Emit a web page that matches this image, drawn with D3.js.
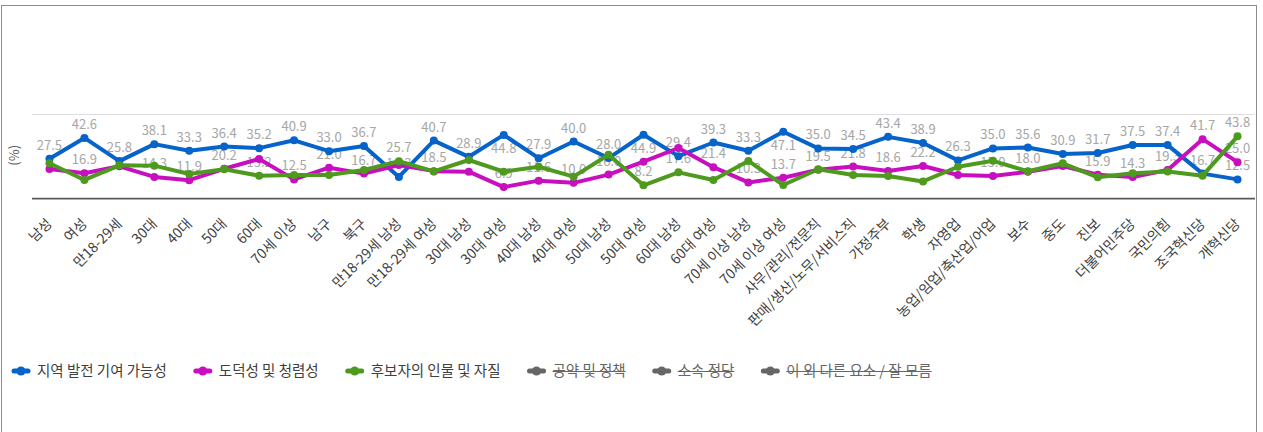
<!DOCTYPE html>
<html>
<head>
<meta charset="utf-8">
<title>chart</title>
<script src="https://cdn.jsdelivr.net/npm/d3@7"></script>
<style>
	body { margin: 0; background: #fff; }
	text { font-family: "Noto Sans CJK KR", "Noto Sans", sans-serif; }
</style>
</head>
<body>
<svg id="chart" width="1263" height="432"></svg>
<script>
	var categories = ['남성', '여성', '만18-29세', '30대', '40대', '50대', '60대', '70세 이상', '남구', '북구',
		'만18-29세 남성', '만18-29세 여성', '30대 남성', '30대 여성', '40대 남성', '40대 여성', '50대 남성', '50대 여성',
		'60대 남성', '60대 여성', '70세 이상 남성', '70세 이상 여성', '사무/관리/전문직', '판매/생산/노무/서비스직',
		'가정주부', '학생', '자영업', '농업/임업/축산업/어업', '보수', '중도', '진보', '더불어민주당', '국민의힘',
		'조국혁신당', '개혁신당'];

	var regional = [27.5, 42.6, 25.8, 38.1, 33.3, 36.4, 35.2, 40.9, 33.0, 36.7, 14.3, 40.7, 28.9, 44.8, 27.9, 40.0,
		28.0, 44.9, 29.4, 39.3, 33.3, 47.1, 35.0, 34.5, 43.4, 38.9, 26.3, 35.0, 35.6, 30.9, 31.7, 37.5, 37.4, 16.7, 12.5];
	var moral = [20.1, 16.9, 22.0, 14.3, 11.9, 20.2, 27.3, 12.5, 21.0, 16.7, 23.0, 18.5, 18.1, 6.9, 11.6, 10.0,
		16.0, 25.4, 35.3, 21.4, 10.3, 13.7, 19.5, 21.8, 18.6, 22.2, 15.7, 15.0, 18.0, 22.2, 15.9, 14.3, 19.3, 41.7, 25.0];
	var person = [24.2, 12.1, 22.7, 22.5, 16.4, 19.8, 15.2, 15.7, 15.7, 19.3, 25.7, 18.3, 26.6, 18.1, 21.7, 14.5,
		30.4, 8.2, 17.6, 12.1, 25.9, 8.4, 19.9, 15.7, 15.0, 11.0, 21.7, 26.0, 18.4, 24.2, 14.0, 16.9, 18.2, 15.2, 43.8];

	var seriesNames = ['지역 발전 기여 가능성', '도덕성 및 청렴성', '후보자의 인물 및 자질', '공약 및 정책', '소속 정당', '이 외 다른 요소 / 잘 모름'];
	var seriesColors = ['#0563c9', '#c80fbf', '#4e9a1e', '#666666', '#666666', '#666666'];
	var seriesHidden = [false, false, false, true, true, true];
	var yMax = 60;

	var series = [regional, moral, person];

	var svg = d3.select('#chart');
	var plot = { left: 32, right: 1255, top: 114, bottom: 196.6 };

	// outer frame
	svg.append('rect')
		.attr('x', 1.5).attr('y', 5.5)
		.attr('width', 1255).attr('height', 440)
		.attr('fill', 'none').attr('stroke', '#8c8c8c');

	var x = d3.scalePoint().domain(categories).range([plot.left, plot.right]).padding(0.5);
	var y = d3.scaleLinear().domain([0, yMax]).range([plot.bottom, plot.top]);

	// top grid line
	svg.append('g')
		.attr('transform', 'translate(' + plot.left + ',0)')
		.call(d3.axisLeft(y).tickValues([yMax]).tickSize(-(plot.right - plot.left)).tickFormat(''))
		.call(function (g) {
			g.select('.domain').remove();
			g.selectAll('.tick line').attr('stroke', '#dedede');
		});

	// x axis
	var xAxis = svg.append('g')
		.attr('transform', 'translate(0,' + (plot.bottom + 2) + ')')
		.call(d3.axisBottom(x).tickSize(0).tickSizeOuter(0));
	xAxis.select('.domain').attr('stroke', '#595959').attr('stroke-width', 1.6)
		.attr('d', 'M' + plot.left + ',0H' + plot.right);
	xAxis.selectAll('.tick text')
		.attr('x', 0).attr('y', 0).attr('dy', null)
		.attr('transform', 'translate(3,26) rotate(-45)')
		.style('text-anchor', 'end')
		.style('font-size', '14px')
		.attr('fill', '#404040');

	svg.append('text')
		.attr('transform', 'translate(19,' + ((plot.top + plot.bottom) / 2) + ') rotate(-90)')
		.attr('text-anchor', 'middle')
		.style('font-size', '13px')
		.attr('fill', '#595959')
		.text('(%)');

	// data labels (drawn under the lines, overlapping ones hidden)
	var labelLayer = svg.append('g');
	var shown = [];
	categories.forEach(function (c, i) {
		series.forEach(function (s) {
			var py = y(s[i]);
			var cy = py - 13.5;
			if (cy - 7.75 < plot.top) cy = py + 14;
			var t = labelLayer.append('text')
				.attr('x', x(c)).attr('y', cy).attr('dy', '0.35em')
				.attr('text-anchor', 'middle')
				.style('font-size', '13px')
				.attr('fill', '#a6a6a6')
				.text(s[i].toFixed(1));
			var w = t.node().getComputedTextLength();
			var box = { x0: x(c) - w / 2, x1: x(c) + w / 2, y0: cy - 7.75, y1: cy + 7.75 };
			var hit = shown.some(function (b) {
				return b.x0 < box.x1 && box.x0 < b.x1 && b.y0 < box.y1 && box.y0 < b.y1;
			});
			if (hit) t.remove(); else shown.push(box);
		});
	});

	var line = d3.line()
		.x(function (d, i) { return x(categories[i]); })
		.y(function (d) { return y(d); });

	series.forEach(function (s, k) {
		var g = svg.append('g');
		g.append('path')
			.datum(s)
			.attr('d', line)
			.attr('fill', 'none')
			.attr('stroke', seriesColors[k])
			.attr('stroke-width', 4)
			.attr('stroke-linejoin', 'round');
		g.selectAll('circle')
			.data(s)
			.enter().append('circle')
			.attr('cx', function (d, i) { return x(categories[i]); })
			.attr('cy', function (d) { return y(d); })
			.attr('r', 4)
			.attr('fill', seriesColors[k]);
	});

	// legend
	var legend = svg.append('g').attr('transform', 'translate(0,371)');
	var lx = 11;
	seriesNames.forEach(function (name, k) {
		var it = legend.append('g').attr('transform', 'translate(' + lx + ',0)');
		it.append('line')
			.attr('x1', 3).attr('x2', 17).attr('y1', 0).attr('y2', 0)
			.attr('stroke', seriesColors[k]).attr('stroke-width', 5).attr('stroke-linecap', 'round');
		it.append('circle').attr('cx', 10).attr('cy', 0).attr('r', 4.5).attr('fill', seriesColors[k]);
		var t = it.append('text')
			.attr('x', 26).attr('y', 0).attr('dy', '0.35em')
			.style('font-size', '14.5px')
			.attr('fill', seriesHidden[k] ? '#666666' : '#404040')
			.text(name);
		var w = t.node().getComputedTextLength();
		if (seriesHidden[k]) {
			it.append('line')
				.attr('x1', 26).attr('x2', 26 + w).attr('y1', 0.5).attr('y2', 0.5)
				.attr('stroke', '#666666').attr('stroke-width', 1.2);
		}
		lx += 26 + w + 26;
	});
</script>
</body>
</html>
